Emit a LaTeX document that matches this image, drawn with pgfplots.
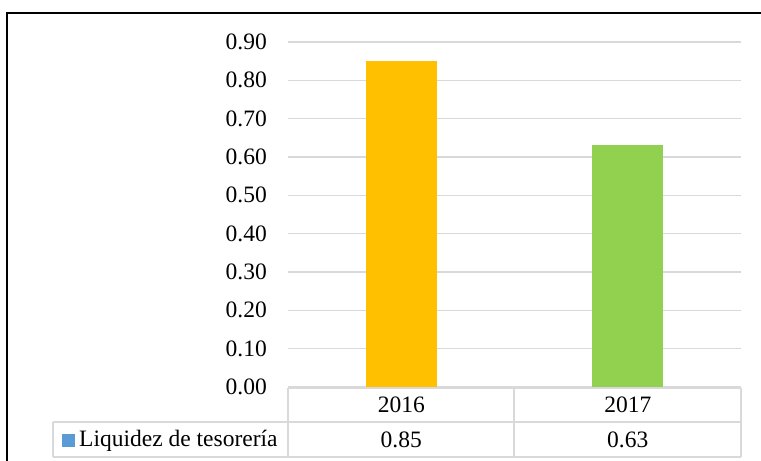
\documentclass[border=0pt]{standalone}
\usepackage{fontspec}
\setmainfont{Liberation Serif}
\usepackage{pgfplots}
\pgfplotsset{compat=1.18}
\definecolor{gold}{HTML}{FFC000}
\definecolor{lime}{HTML}{92D050}
\definecolor{keyblue}{HTML}{5B9BD5}
\definecolor{rule}{HTML}{D9D9D9}

\begin{document}
\fontsize{23.5bp}{28bp}\selectfont
\begin{tikzpicture}[x=1bp,y=1bp]
\useasboundingbox (0,0) rectangle (761,461);
% outer frame (clipped on right and bottom)
\draw[line width=2bp] (7,-10) -- (7,448) -- (800,448);
\begin{axis}[
    at={(288bp,74bp)}, anchor=south west,
    scale only axis, width=453bp, height=345bp,
    xmin=-0.5, xmax=1.5, ymin=0, ymax=0.9,
    ybar, bar width=71bp, bar shift=0pt,
    axis line style={draw=none},
    major tick length=0pt,
    ytick={0,0.1,0.2,0.3,0.4,0.5,0.6,0.7,0.8,0.9},
    ymajorgrids, grid style={rule, line width=1.5bp},
    yticklabel style={anchor=east, inner sep=0pt, xshift=-21bp,
        /pgf/number format/.cd, fixed, fixed zerofill, precision=2, assume math mode=true},
    xtick={0,1}, xticklabels={2016,2017},
    xticklabel style={anchor=center, inner sep=0pt, yshift=-18bp},
    extra x ticks={0,1}, extra x tick labels={0.85,0.63},
    extra x tick style={grid=none, xticklabel style={yshift=-35bp}},
    tick label style={font=\fontsize{23.5bp}{28bp}\selectfont},
]
\addplot[fill=gold, draw=none] coordinates {(0,0.85)};
\addplot[fill=lime, draw=none] coordinates {(1,0.63)};
\end{axis}
% data table grid
\begin{scope}[rule, line width=1.5bp]
\draw (288,73) -- (741,73);
\draw (53,39) -- (741,39);
\draw (53,4) -- (741,4);
\draw (53,39) -- (53,4);
\draw (288,73) -- (288,4);
\draw (514,73) -- (514,4);
\draw (741,73) -- (741,4);
\end{scope}
\fill[keyblue] (62,14) rectangle (75,27);
\node[anchor=base west, inner sep=0pt] at (79,14) {Liquidez de tesorería};
\end{tikzpicture}
\end{document}
